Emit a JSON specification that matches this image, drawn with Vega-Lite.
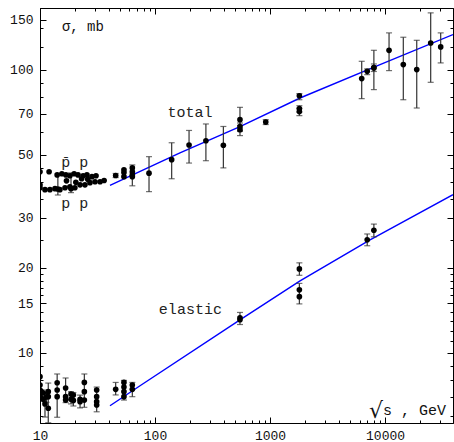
{
  "$schema": "https://vega.github.io/schema/vega-lite/v6.json",
  "width": 413,
  "height": 415,
  "autosize": {"type": "none"},
  "padding": {"left": 40, "top": 8, "right": 1, "bottom": 19},
  "background": "white",
  "config": {
    "view": {"stroke": "black", "strokeWidth": 1},
    "axis": {"grid": false, "title": null, "labelFont": "Liberation Mono", "labelFontSize": 13, "labelColor": "#111", "tickColor": "black", "domainColor": "black", "labelFlush": false, "labelOverlap": false, "format": "d"}
  },
  "datasets": {
    "total": [
      {"x": 10.0, "y": 43.6}, {"x": 12.0, "y": 43.6}, {"x": 14.1, "y": 42.5}, {"x": 15.5, "y": 42.9}, {"x": 16.8, "y": 42.5}, {"x": 18.2, "y": 42.2}, {"x": 19.8, "y": 42.9}, {"x": 21.4, "y": 42.5}, {"x": 23.7, "y": 42.2}, {"x": 25.6, "y": 42.5}, {"x": 28.3, "y": 41.9}, {"x": 30.7, "y": 42.2},
      {"x": 10.0, "y": 39.2}, {"x": 10.0, "y": 38.3}, {"x": 11.05, "y": 37.7}, {"x": 12.2, "y": 37.7}, {"x": 13.5, "y": 38.0}, {"x": 14.3, "y": 37.9, "lo": 36.1, "hi": 42.9}, {"x": 14.9, "y": 37.7}, {"x": 16.5, "y": 38.3}, {"x": 18.2, "y": 38.6}, {"x": 18.6, "y": 38.0, "lo": 36.8, "hi": 43.2}, {"x": 20.1, "y": 38.3}, {"x": 22.3, "y": 39.2}, {"x": 24.6, "y": 39.2}, {"x": 27.2, "y": 39.9}, {"x": 30.1, "y": 40.2}, {"x": 33.3, "y": 40.2},
      {"x": 17.0, "y": 40.5}, {"x": 20.5, "y": 40.0}, {"x": 23.0, "y": 41.2}, {"x": 26.0, "y": 41.0},
      {"x": 36.1, "y": 40.6},
      {"x": 45.5, "y": 42.3, "lo": 41.6, "hi": 43.0},
      {"x": 53.7, "y": 44.3}, {"x": 53.7, "y": 43.3}, {"x": 53.7, "y": 41.9},
      {"x": 63.5, "y": 45.0}, {"x": 63.5, "y": 43.6}, {"x": 63.5, "y": 42.5}, {"x": 63.5, "y": 41.9, "lo": 38.9, "hi": 46.1},
      {"x": 88.7, "y": 43.1, "lo": 37.1, "hi": 49.3},
      {"x": 139.6, "y": 48.1, "lo": 41.2, "hi": 55.2},
      {"x": 197.7, "y": 54.2, "lo": 46.8, "hi": 61.0},
      {"x": 277, "y": 56.1, "lo": 47.7, "hi": 64.3},
      {"x": 393, "y": 54.1, "lo": 45.0, "hi": 63.0},
      {"x": 548, "y": 66.6, "lo": 60.5, "hi": 73.6}, {"x": 548, "y": 62.9, "lo": 61.0, "hi": 64.8}, {"x": 548, "y": 61.4, "lo": 58.5, "hi": 63.5},
      {"x": 918, "y": 65.3, "lo": 64.0, "hi": 66.6},
      {"x": 1800, "y": 80.9, "lo": 78.3, "hi": 82.3}, {"x": 1800, "y": 72.8, "lo": 70.8, "hi": 74.6}, {"x": 1800, "y": 71.1, "lo": 68.8, "hi": 73.0},
      {"x": 6270, "y": 93.0, "lo": 79.0, "hi": 107},
      {"x": 7000, "y": 98.6, "lo": 96.0, "hi": 100.6},
      {"x": 8000, "y": 101.4, "lo": 98.5, "hi": 104.7}, {"x": 8000, "y": 101.7, "lo": 85.0, "hi": 117.0},
      {"x": 10840, "y": 117, "lo": 99.2, "hi": 134.8},
      {"x": 14420, "y": 104.2, "lo": 78.3, "hi": 130.1},
      {"x": 18870, "y": 100, "lo": 73.2, "hi": 126.9},
      {"x": 24950, "y": 124.2, "lo": 90.2, "hi": 158.6},
      {"x": 30480, "y": 120.3, "lo": 105.6, "hi": 134.8}
    ],
    "elastic": [
      {"x": 10.0, "y": 8.25}, {"x": 10.0, "y": 7.71}, {"x": 10.0, "y": 7.40}, {"x": 10.0, "y": 7.11},
      {"x": 10.3, "y": 7.3}, {"x": 10.3, "y": 6.9},
      {"x": 10.68, "y": 7.22}, {"x": 10.68, "y": 6.86},
      {"x": 11.05, "y": 6.61, "lo": 5.94, "hi": 7.01},
      {"x": 11.4, "y": 7.0, "lo": 6.7, "hi": 7.4},
      {"x": 11.8, "y": 7.30, "lo": 5.67, "hi": 7.83}, {"x": 11.8, "y": 7.01}, {"x": 11.8, "y": 6.38},
      {"x": 14.1, "y": 7.85, "lo": 5.93, "hi": 8.43}, {"x": 14.1, "y": 7.40}, {"x": 14.1, "y": 7.01},
      {"x": 16.7, "y": 7.52, "lo": 6.68, "hi": 8.16}, {"x": 16.7, "y": 7.01}, {"x": 16.7, "y": 6.82},
      {"x": 18.6, "y": 7.16, "lo": 6.61, "hi": 7.30}, {"x": 18.6, "y": 6.86},
      {"x": 19.5, "y": 7.1, "lo": 6.5, "hi": 7.25}, {"x": 19.5, "y": 6.8},
      {"x": 22.3, "y": 6.86, "lo": 6.4, "hi": 7.1}, {"x": 22.3, "y": 6.73},
      {"x": 24.3, "y": 7.87, "lo": 6.43, "hi": 8.43}, {"x": 24.3, "y": 7.30}, {"x": 24.3, "y": 6.82},
      {"x": 31.1, "y": 7.40, "lo": 6.20, "hi": 7.58}, {"x": 31.1, "y": 7.01}, {"x": 31.1, "y": 6.73}, {"x": 31.1, "y": 6.55},
      {"x": 45.5, "y": 7.44, "lo": 7.11, "hi": 7.87},
      {"x": 53.7, "y": 7.87, "lo": 6.82, "hi": 8.0}, {"x": 53.7, "y": 7.58}, {"x": 53.7, "y": 7.30}, {"x": 53.7, "y": 7.01},
      {"x": 63.5, "y": 7.71, "lo": 7.01, "hi": 7.87}, {"x": 63.5, "y": 7.44},
      {"x": 548, "y": 13.1, "lo": 12.6, "hi": 13.9}, {"x": 548, "y": 13.3},
      {"x": 1800, "y": 19.8, "lo": 18.8, "hi": 20.8},
      {"x": 1800, "y": 16.7, "lo": 14.9, "hi": 17.6}, {"x": 1800, "y": 15.8},
      {"x": 7000, "y": 25.1, "lo": 23.9, "hi": 26.3},
      {"x": 8000, "y": 27.1, "lo": 25.7, "hi": 28.5}
    ],
    "fits": [
      {"curve": "total", "x": 40.6, "y": 39.0}, {"curve": "total", "x": 164.8, "y": 50.8}, {"curve": "total", "x": 548, "y": 62.9}, {"curve": "total", "x": 1824, "y": 79.4}, {"curve": "total", "x": 9050, "y": 104.2}, {"curve": "total", "x": 39000, "y": 133.0},
      {"curve": "elastic", "x": 40.6, "y": 6.51}, {"curve": "elastic", "x": 74.1, "y": 7.66}, {"curve": "elastic", "x": 548, "y": 13.08}, {"curve": "elastic", "x": 1824, "y": 17.96}, {"curve": "elastic", "x": 7410, "y": 25.07}, {"curve": "elastic", "x": 39000, "y": 36.2}
    ]
  },
  "resolve": {"axis": {"x": "independent", "y": "independent"}},
  "layer": [
    {
      "data": {"name": "fits"},
      "mark": {"type": "line", "color": "#0000ff", "strokeWidth": 1.4, "clip": true},
      "encoding": {
        "x": {"field": "x", "type": "quantitative", "scale": {"type": "log", "domain": [10, 39000], "nice": false},
              "axis": {"orient": "bottom", "values": [10, 100, 1000, 10000], "tickSize": -6, "labelPadding": 12, "domain": true}},
        "y": {"field": "y", "type": "quantitative", "scale": {"type": "log", "domain": [5.66, 165], "nice": false},
              "axis": {"orient": "left", "values": [10, 15, 20, 30, 50, 70, 100, 150], "tickSize": -6, "labelPadding": 13, "domain": true}},
        "detail": {"field": "curve"}
      }
    },
    {
      "data": {"name": "total"},
      "transform": [{"filter": "isValid(datum.lo)"}],
      "mark": {"type": "rule", "color": "#333", "strokeWidth": 1.2, "clip": true},
      "encoding": {
        "x": {"field": "x", "type": "quantitative", "axis": {"orient": "bottom", "values": [20, 30, 40, 50, 60, 70, 80, 90, 200, 300, 400, 500, 600, 700, 800, 900, 2000, 3000, 4000, 5000, 6000, 7000, 8000, 9000, 20000, 30000], "labels": false, "tickSize": -3, "domain": false}},
        "y": {"field": "lo", "type": "quantitative", "axis": {"orient": "left", "values": [6, 7, 8, 9, 11, 12, 13, 14, 16, 17, 18, 19, 25, 35, 40, 45, 60, 80, 90, 120, 140], "labels": false, "tickSize": -3, "domain": false}},
        "y2": {"field": "hi"}
      }
    },
    {
      "data": {"name": "total"},
      "transform": [{"filter": "isValid(datum.lo)"}],
      "mark": {"type": "tick", "orient": "horizontal", "color": "#333", "size": 6, "thickness": 1.2, "clip": true},
      "encoding": {
        "x": {"field": "x", "type": "quantitative", "axis": {"orient": "top", "values": [10, 100, 1000, 10000], "labels": false, "tickSize": -6, "domain": true}},
        "y": {"field": "lo", "type": "quantitative", "axis": {"orient": "right", "values": [10, 15, 20, 30, 50, 70, 100, 150], "labels": false, "tickSize": -6, "domain": true}}
      }
    },
    {
      "data": {"name": "total"},
      "transform": [{"filter": "isValid(datum.hi)"}],
      "mark": {"type": "tick", "orient": "horizontal", "color": "#333", "size": 6, "thickness": 1.2, "clip": true},
      "encoding": {
        "x": {"field": "x", "type": "quantitative", "axis": {"orient": "top", "values": [20, 30, 40, 50, 60, 70, 80, 90, 200, 300, 400, 500, 600, 700, 800, 900, 2000, 3000, 4000, 5000, 6000, 7000, 8000, 9000, 20000, 30000], "labels": false, "tickSize": -3, "domain": false}},
        "y": {"field": "hi", "type": "quantitative", "axis": {"orient": "right", "values": [6, 7, 8, 9, 11, 12, 13, 14, 16, 17, 18, 19, 25, 35, 40, 45, 60, 80, 90, 120, 140], "labels": false, "tickSize": -3, "domain": false}}
      }
    },
    {
      "data": {"name": "elastic"},
      "transform": [{"filter": "isValid(datum.lo)"}],
      "mark": {"type": "rule", "color": "#333", "strokeWidth": 1.2, "clip": true},
      "encoding": {
        "x": {"field": "x", "type": "quantitative", "axis": null},
        "y": {"field": "lo", "type": "quantitative", "axis": null},
        "y2": {"field": "hi"}
      }
    },
    {
      "data": {"name": "elastic"},
      "transform": [{"filter": "isValid(datum.lo)"}],
      "mark": {"type": "tick", "orient": "horizontal", "color": "#333", "size": 6, "thickness": 1.2, "clip": true},
      "encoding": {
        "x": {"field": "x", "type": "quantitative", "axis": null},
        "y": {"field": "lo", "type": "quantitative", "axis": null}
      }
    },
    {
      "data": {"name": "elastic"},
      "transform": [{"filter": "isValid(datum.hi)"}],
      "mark": {"type": "tick", "orient": "horizontal", "color": "#333", "size": 6, "thickness": 1.2, "clip": true},
      "encoding": {
        "x": {"field": "x", "type": "quantitative", "axis": null},
        "y": {"field": "hi", "type": "quantitative", "axis": null}
      }
    },
    {
      "data": {"name": "total"},
      "mark": {"type": "point", "filled": true, "shape": "circle", "size": 32, "color": "black", "opacity": 1, "clip": true},
      "encoding": {
        "x": {"field": "x", "type": "quantitative", "axis": null},
        "y": {"field": "y", "type": "quantitative", "axis": null}
      }
    },
    {
      "data": {"name": "elastic"},
      "mark": {"type": "point", "filled": true, "shape": "circle", "size": 32, "color": "black", "opacity": 1, "clip": true},
      "encoding": {
        "x": {"field": "x", "type": "quantitative", "axis": null},
        "y": {"field": "y", "type": "quantitative", "axis": null}
      }
    },
    {
      "data": {"values": [
        {"x": 201, "y": 71.1, "label": "total"},
        {"x": 203, "y": 14.3, "label": "elastic"},
        {"x": 20.1, "y": 47.3, "label": "p\u0304 p"},
        {"x": 20.1, "y": 33.9, "label": "p p"}
      ]},
      "mark": {"type": "text", "font": "Liberation Mono", "fontSize": 15, "color": "#222", "align": "center", "baseline": "middle"},
      "encoding": {
        "x": {"field": "x", "type": "quantitative", "axis": null},
        "y": {"field": "y", "type": "quantitative", "axis": null},
        "text": {"field": "label"}
      }
    },
    {
      "data": {"values": [{"x": 15.5, "y": 141.9, "label": "\u03c3, mb"}]},
      "mark": {"type": "text", "font": "Liberation Mono", "fontSize": 14, "color": "#111", "align": "left", "baseline": "middle"},
      "encoding": {
        "x": {"field": "x", "type": "quantitative", "axis": null},
        "y": {"field": "y", "type": "quantitative", "axis": null},
        "text": {"field": "label"}
      }
    },
    {
      "data": {"values": [{"x": 9620, "y": 6.29, "label": "\u221a"}]},
      "mark": {"type": "text", "font": "DejaVu Sans", "fontSize": 22, "color": "#111", "align": "right", "baseline": "middle", "dy": 1},
      "encoding": {
        "x": {"field": "x", "type": "quantitative", "axis": null},
        "y": {"field": "y", "type": "quantitative", "axis": null},
        "text": {"field": "label"}
      }
    },
    {
      "data": {"values": [{"x": 9620, "y": 6.29, "label": "s , GeV"}]},
      "mark": {"type": "text", "font": "Liberation Mono", "fontSize": 15, "color": "#111", "align": "left", "baseline": "middle"},
      "encoding": {
        "x": {"field": "x", "type": "quantitative", "axis": null},
        "y": {"field": "y", "type": "quantitative", "axis": null},
        "text": {"field": "label"}
      }
    }
  ]
}
